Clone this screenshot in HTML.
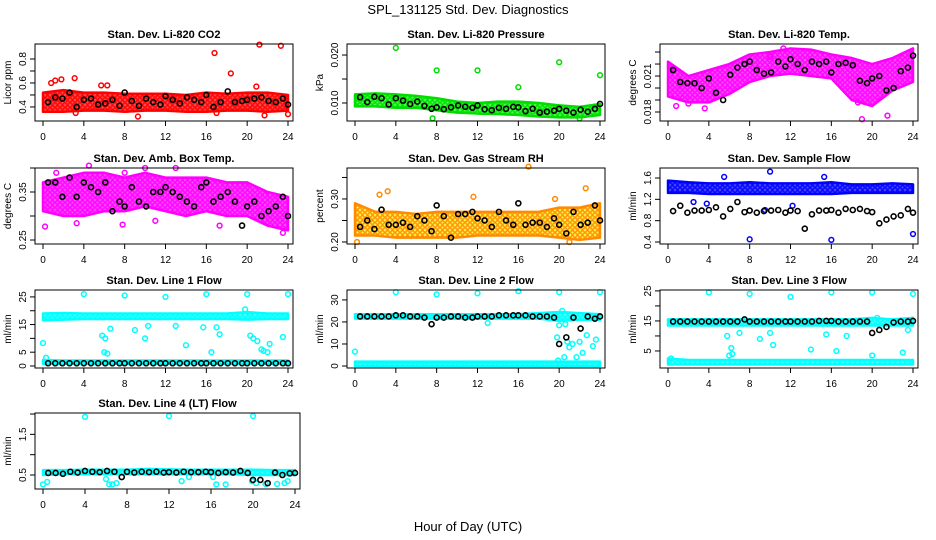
<!DOCTYPE html>
<html><head><meta charset="utf-8">
<style>
html,body{margin:0;padding:0;background:#fff;}
svg{display:block;font-family:"Liberation Sans",sans-serif;}
.title{font-size:11px;font-weight:bold;}
.tick{font-size:10px;}
</style></head>
<body>
<svg id="chart" width="936" height="540" viewBox="0 0 936 540" xmlns="http://www.w3.org/2000/svg">
<defs id="defs"></defs>
<text x="468" y="14" text-anchor="middle" font-size="13">SPL_131125  Std. Dev. Diagnostics</text>
<text x="468" y="531" text-anchor="middle" font-size="13">Hour of Day (UTC)</text>
</svg>
<script>
// shared hours
const bandHours = [0,2,4,6,8,10,12,14,16,18,20,22,24];
const blackHours = [0.5,1.2,1.9,2.6,3.3,4.0,4.7,5.4,6.1,6.8,7.5,8.0,8.7,9.4,10.1,10.8,11.5,12.0,12.7,13.4,14.1,14.8,15.5,16.0,16.7,17.4,18.1,18.8,19.5,20.0,20.7,21.4,22.1,22.8,23.5,24.0];
const xTicks = [0,4,8,12,16,20,24];

// CO2
const co2Lo = [0.36,0.36,0.37,0.37,0.36,0.37,0.37,0.36,0.36,0.37,0.37,0.36,0.37];
const co2Hi = [0.52,0.54,0.52,0.52,0.51,0.51,0.51,0.50,0.52,0.51,0.52,0.52,0.50];
const co2OutX = [0.8,1.2,1.8,3.1,5.7,6.3,16.8,18.4,21.2,23.3,20.9,9.3,21.7,24,3.2,17];
const co2OutY = [0.60,0.62,0.63,0.64,0.58,0.58,0.85,0.68,0.92,0.91,0.57,0.32,0.33,0.34,0.35,0.35];
const co2Black = [0.44,0.48,0.47,0.52,0.40,0.46,0.47,0.42,0.43,0.46,0.41,0.52,0.45,0.41,0.47,0.44,0.42,0.49,0.46,0.43,0.48,0.46,0.44,0.50,0.40,0.44,0.53,0.44,0.45,0.46,0.47,0.48,0.45,0.44,0.47,0.42];
// Pressure
const presLo = [0.0093,0.0093,0.0090,0.0090,0.0085,0.0080,0.0078,0.0077,0.0075,0.0072,0.0070,0.0070,0.0075];
const presHi = [0.0118,0.0120,0.0118,0.0115,0.0110,0.0103,0.0100,0.0103,0.0103,0.0100,0.0095,0.0092,0.0098];
const presOutX = [4,8,12,16,20,24,7.6,22];
const presOutY = [0.0215,0.0168,0.0168,0.0133,0.0185,0.0158,0.0068,0.0068];
const presBlack = [0.0112,0.0102,0.0113,0.0110,0.0097,0.0110,0.0105,0.0098,0.0103,0.0094,0.0088,0.0091,0.0087,0.0091,0.0095,0.0092,0.0090,0.0095,0.0087,0.0085,0.0090,0.0088,0.0092,0.0091,0.0083,0.0088,0.0080,0.0082,0.0084,0.0088,0.0084,0.0080,0.0086,0.0082,0.0088,0.0098];
// Li-820 Temp
const tempLo = [0.0193,0.0188,0.0188,0.0195,0.0205,0.0210,0.0212,0.0210,0.0208,0.0190,0.0185,0.0198,0.0205];
const tempHi = [0.0222,0.0210,0.0215,0.0220,0.0228,0.0230,0.0233,0.0232,0.0228,0.0225,0.0220,0.0225,0.0233];
const tempOutX = [0.8,2,3.6,19,21.5,10,11.3,0.2,18.6];
const tempOutY = [0.0185,0.0187,0.0183,0.0174,0.0177,0.0226,0.0233,0.0218,0.0188];
const tempBlack = [0.0215,0.0205,0.0204,0.0204,0.0200,0.0208,0.0196,0.0190,0.0211,0.0217,0.0220,0.0222,0.0215,0.0212,0.0213,0.0222,0.0218,0.0224,0.0220,0.0215,0.0222,0.0220,0.0222,0.0213,0.0220,0.0221,0.0219,0.0206,0.0204,0.0208,0.0210,0.0198,0.0200,0.0214,0.0217,0.0227];
// Amb box temp
const ambLo = [0.31,0.30,0.30,0.31,0.31,0.32,0.31,0.30,0.31,0.30,0.30,0.28,0.27];
const ambHi = [0.37,0.38,0.39,0.39,0.38,0.39,0.38,0.38,0.38,0.37,0.37,0.35,0.34];
const ambOutX = [0.2,3.3,7.8,11,17.3,23.5,4.5,10,13,1.3,8];
const ambOutY = [0.278,0.285,0.282,0.29,0.28,0.265,0.405,0.40,0.40,0.39,0.39];
const ambBlack = [0.37,0.37,0.34,0.38,0.34,0.37,0.36,0.35,0.37,0.31,0.33,0.32,0.36,0.33,0.32,0.35,0.35,0.36,0.35,0.34,0.33,0.32,0.36,0.37,0.33,0.34,0.35,0.33,0.28,0.32,0.33,0.30,0.31,0.32,0.34,0.30];
// Gas stream RH
const rhLo = [0.215,0.215,0.21,0.21,0.21,0.21,0.215,0.215,0.215,0.215,0.21,0.205,0.21];
const rhHi = [0.29,0.27,0.27,0.265,0.27,0.27,0.27,0.27,0.27,0.27,0.28,0.28,0.29];
const rhOutX = [0.2,3.2,2.4,17,22.6,11.6,21,19.6];
const rhOutY = [0.20,0.318,0.31,0.375,0.325,0.305,0.20,0.30];
const rhBlack = [0.235,0.25,0.23,0.275,0.24,0.24,0.245,0.235,0.26,0.25,0.225,0.285,0.26,0.21,0.265,0.265,0.27,0.255,0.25,0.235,0.27,0.25,0.24,0.29,0.24,0.245,0.245,0.235,0.255,0.24,0.22,0.27,0.24,0.245,0.285,0.25];
// Sample flow
const sfLo = [1.32,1.32,1.30,1.30,1.30,1.30,1.30,1.30,1.30,1.32,1.32,1.32,1.32];
const sfHi = [1.55,1.52,1.50,1.50,1.52,1.50,1.50,1.50,1.52,1.48,1.48,1.50,1.48];
const sfOutX = [8,16,24,10,15.3,2.5,9.5,5.5,3.8,12.2];
const sfOutY = [0.45,0.44,0.55,1.72,1.62,1.15,1.0,1.62,1.12,1.08];
const sfBlack = [0.98,1.08,0.95,0.99,0.99,1.0,1.05,0.88,1.02,1.15,0.96,0.99,0.95,0.98,0.99,1.0,0.95,0.99,0.98,0.65,0.92,0.99,0.99,1.0,0.95,1.02,1.0,1.02,0.98,0.96,0.75,0.82,0.88,0.9,1.02,0.95];
// Line 1 flow
const l1HiLo = [16.5,16.8,17,17,17,17,17,17,17,17,16.8,17,17];
const l1HiHi = [19,19.2,19,19,19,19,19,19,19,19,19.5,19,19];
const l1LoLo = [0.8,0.8,0.8,0.8,0.8,0.8,0.8,0.8,0.8,0.8,0.8,0.8,0.8];
const l1LoHi = [2.2,2,2,2,2,2,2,2,2,2,2,2,2];
const l1OutX = [0,4,8,12,16,20,24,6,6.3,5.8,6.1,6.6,9,10,10.3,13,14,15.7,16.5,17.3,17,20.3,20.6,21,21.4,21.6,22,22.2,23.5,19.8,0.3];
const l1OutY = [8.3,26,25.5,25,26,26,26,5,4.5,11,10,13.5,13,10,14.5,14.5,7.5,14,5,11.5,14,11,10,9,6,5.5,5,8,10.5,20.5,3];
const l1Black = [1,1,1,1,1,1,1,1,1,1,1,1,1,1,1,1,1,1,1,1,1,1,1,1,1,1,1,1,1,1,1,1,1,1,1,1];
// Line 2 flow
const l2HiLo = [21.5,21.5,21.5,21.5,21.5,21.5,21.5,21.5,21.5,21.5,20.5,21,21];
const l2HiHi = [23.5,23.5,23.5,23.5,23.5,23.5,23.5,23.5,23.5,24,24.5,24,23.5];
const l2LoLo = [0,0,0,0,0,0,0,0,0,0,0,0,0];
const l2LoHi = [2,2,2,2,2,2,2,2,2,2,2,2,2];
const l2OutX = [0,4,8,12,16,20,24,19.8,20,20.3,20.6,20.5,20.8,21,21.3,21.7,22,22.3,22.7,23.3,23.6,19.9,13];
const l2OutY = [6.5,33.5,32.5,33,34,33.5,33.5,13,18.5,25,19,4,11,8.5,10,4,11,6,14,9,12,2.5,19.5];
const l2Black = [22.5,22.5,22.5,22.5,22.5,23,23,22.5,22.5,22,19,22,22,22.5,22.5,22,22,22.5,22.5,22.5,23,23,23,23,23,22.5,22.5,22.5,22,10,13,22,17,22.5,21.5,22.5];
// Line 3 flow
const l3HiLo = [13.5,13.5,13.5,13.5,13.5,13.5,13.5,13.5,13.5,13.5,13.5,13.5,13.5];
const l3HiHi = [15.5,15.5,15.5,15.5,15.5,15.5,15.5,15.5,15.5,15.5,16,15.5,16];
const l3LoLo = [0.5,0.5,0.5,0.5,0.5,0.5,0.5,0.5,0.5,0.5,0.5,0.5,0.5];
const l3LoHi = [2.5,2,2,2,2,2,2,2,2,2,2,2,2];
const l3OutX = [4,8,12,16,20,24,0.3,5.8,6.2,6.3,6,7,9,10,10.3,14,15.5,16.5,17.5,20,23,23.5,20.5];
const l3OutY = [24.5,24,23,24.5,24.5,24,2.5,10,6,4,3.5,11,9,11,7,5.5,10.5,5,10,3.5,4.5,12,16];
const l3Black = [14.8,14.8,14.8,14.8,14.8,14.8,14.8,14.8,14.8,14.8,15.5,14.8,14.8,14.8,14.8,14.8,14.8,14.8,14.8,14.8,14.8,15,15,15,14.8,14.8,14.8,14.8,14.8,11,12,13,14.5,14.8,14.8,15];
// Line 4 flow
const l4Lo = [0.50,0.52,0.52,0.52,0.52,0.52,0.52,0.52,0.52,0.52,0.50,0.50,0.50];
const l4Hi = [0.62,0.62,0.63,0.63,0.63,0.65,0.64,0.63,0.63,0.63,0.63,0.62,0.62];
const l4OutX = [4,12,20,0,0.4,6,6.3,6.6,7,13.2,13.9,16.5,17.4,19.9,20.3,21.2,22.3,23,23.3,16.2];
const l4OutY = [1.93,1.95,1.95,0.27,0.33,0.4,0.27,0.27,0.3,0.35,0.45,0.27,0.27,0.35,0.3,0.28,0.28,0.3,0.35,0.45];
const l4Black = [0.55,0.55,0.53,0.58,0.56,0.6,0.58,0.57,0.6,0.58,0.45,0.58,0.56,0.58,0.57,0.58,0.56,0.57,0.56,0.58,0.57,0.57,0.58,0.57,0.55,0.57,0.56,0.6,0.55,0.38,0.38,0.3,0.56,0.5,0.54,0.55];

const panels = [
 {name:'co2',title:'Stan. Dev. Li-820 CO2',ylab:'Licor ppm',left:35,top:44,w:258,h:77,y0:0.283,y1:0.925,ticks:[0.4,0.5,0.6,0.7,0.8],labels:['0.4','','0.6','','0.8'],color:'#ff0000',bg:'#ff0000',bands:[[co2Lo,co2Hi]],ox:co2OutX,oy:co2OutY,black:co2Black},
 {name:'pressure',title:'Stan. Dev. Li-820 Pressure',ylab:'kPa',left:347,top:44,w:258,h:77,y0:0.00625,y1:0.0223,ticks:[0.010,0.015,0.020],labels:['0.010','','0.020'],color:'#00dd00',bg:'#00ff00',bands:[[presLo,presHi]],ox:presOutX,oy:presOutY,black:presBlack},
 {name:'li820-temp',title:'Stan. Dev. Li-820 Temp.',ylab:'degrees C',left:660,top:44,w:258,h:77,y0:0.01725,y1:0.02367,ticks:[0.018,0.019,0.020,0.021,0.022,0.023],labels:['0.018','','','0.021','',''],color:'#ff00ff',bg:'#ff00ff',bands:[[tempLo,tempHi]],ox:tempOutX,oy:tempOutY,black:tempBlack},
 {name:'amb-box-temp',title:'Stan. Dev. Amb. Box Temp.',ylab:'degrees C',left:35,top:168,w:258,h:76,y0:0.2417,y1:0.40,ticks:[0.25,0.30,0.35,0.40],labels:['0.25','','0.35',''],color:'#ff00ff',bg:'#ff00ff',bands:[[ambLo,ambHi]],ox:ambOutX,oy:ambOutY,black:ambBlack},
 {name:'gas-stream-rh',title:'Stan. Dev. Gas Stream RH',ylab:'percent',left:347,top:168,w:258,h:76,y0:0.1953,y1:0.372,ticks:[0.20,0.25,0.30,0.35],labels:['0.20','','0.30',''],color:'#ff8c00',bg:'#ffee00',bands:[[rhLo,rhHi]],ox:rhOutX,oy:rhOutY,black:rhBlack},
 {name:'sample-flow',title:'Stan. Dev. Sample Flow',ylab:'ml/min',left:660,top:168,w:258,h:76,y0:0.3625,y1:1.7875,ticks:[0.4,0.8,1.2,1.6],labels:['0.4','0.8','1.2','1.6'],color:'#0000ff',bg:'#0000ff',bands:[[sfLo,sfHi]],ox:sfOutX,oy:sfOutY,black:sfBlack},
 {name:'line1-flow',title:'Stan. Dev. Line 1 Flow',ylab:'ml/min',left:35,top:290,w:258,h:78,y0:-0.72,y1:27.5,ticks:[0,5,10,15,20,25],labels:['0','5','','15','','25'],color:'#00ffff',bg:'#00ffff',bands:[[l1HiLo,l1HiHi],[l1LoLo,l1LoHi]],ox:l1OutX,oy:l1OutY,black:l1Black},
 {name:'line2-flow',title:'Stan. Dev. Line 2 Flow',ylab:'ml/min',left:347,top:290,w:258,h:78,y0:-0.9,y1:34.5,ticks:[0,10,20,30],labels:['0','10','20','30'],color:'#00ffff',bg:'#00ffff',bands:[[l2HiLo,l2HiHi],[l2LoLo,l2LoHi]],ox:l2OutX,oy:l2OutY,black:l2Black},
 {name:'line3-flow',title:'Stan. Dev. Line 3 Flow',ylab:'ml/min',left:660,top:290,w:258,h:78,y0:-0.67,y1:25.3,ticks:[5,10,15,20,25],labels:['5','','15','','25'],color:'#00ffff',bg:'#00ffff',bands:[[l3HiLo,l3HiHi],[l3LoLo,l3LoHi]],ox:l3OutX,oy:l3OutY,black:l3Black},
 {name:'line4-flow',title:'Stan. Dev. Line 4 (LT) Flow',ylab:'ml/min',left:35,top:413,w:265,h:76,y0:0.156,y1:2.025,ticks:[0.5,1.0,1.5,2.0],labels:['0.5','','1.5',''],color:'#00ffff',bg:'#00ffff',bands:[[l4Lo,l4Hi]],ox:l4OutX,oy:l4OutY,black:l4Black}
];

const NS='http://www.w3.org/2000/svg';
const svg=document.getElementById('chart');
const defs=document.getElementById('defs');
function mk(tag,attrs,parent){const e=document.createElementNS(NS,tag);for(const k in attrs)e.setAttribute(k,attrs[k]);(parent||svg).appendChild(e);return e;}

panels.forEach((p,i)=>{
  const g=mk('g',{});
  
  
  const xs=h=>p.left+8+h*(p.w-13)/24;
  const ys=v=>p.top+p.h-(v-p.y0)/(p.y1-p.y0)*p.h;
  const pat=mk('pattern',{id:'pat'+i,width:5,height:5,patternUnits:'userSpaceOnUse'},defs);
  mk('rect',{width:5,height:5,fill:p.bg,'fill-opacity':0.7},pat);
  mk('circle',{cx:2.5,cy:2.5,r:1.8,fill:'none',stroke:p.color,'stroke-width':1.3},pat);
  const t=mk('text',{x:p.left+p.w/2,y:p.top-6,'text-anchor':'middle',class:'title'},g);
  t.textContent=p.title;
  
  
  p.bands.forEach((b,bi)=>{
    let pts=bandHours.map((h,k)=>xs(h)+','+ys(b[1][k]));
    pts=pts.concat(bandHours.map((h,k)=>xs(h)+','+ys(b[0][k])).reverse());
    const poly=mk('polygon',{points:pts.join(' '),fill:'url(#pat'+i+')',stroke:p.color,'stroke-width':2.5,'stroke-linejoin':'round'},g);
    
    
  });
  p.ox.forEach((x,k)=>{
    const c=mk('circle',{cx:xs(x),cy:ys(p.oy[k]),r:2.4,fill:'none',stroke:p.color,'stroke-width':1.5},g);
    
    
  });
  blackHours.forEach((h,k)=>{
    const c=mk('circle',{cx:xs(h),cy:ys(p.black[k]),r:2.5,fill:'none',stroke:'#000','stroke-width':1.6},g);
    
    
  });
  const box=mk('rect',{x:p.left,y:p.top,width:p.w,height:p.h,fill:'none',stroke:'#000','stroke-width':1},g);
  
  
  xTicks.forEach(h=>{
    mk('line',{x1:xs(h),x2:xs(h),y1:p.top+p.h,y2:p.top+p.h+5,stroke:'#000'},g);
    const tl=mk('text',{x:xs(h),y:p.top+p.h+19,'text-anchor':'middle',class:'tick'},g);
    tl.textContent=h;
    
    
  });
  p.ticks.forEach((v,k)=>{
    mk('line',{x1:p.left,x2:p.left-5,y1:ys(v),y2:ys(v),stroke:'#000'},g);
    if(p.labels[k]){
      const tx=p.left-9, ty=ys(v);
      const tl=mk('text',{x:tx,y:ty,'text-anchor':'middle',class:'tick',transform:'rotate(-90 '+tx+' '+ty+')'},g);
      tl.textContent=p.labels[k];
      
      
    }
  });
  const yx=p.left-24, yy=p.top+p.h/2;
  const yl=mk('text',{x:yx,y:yy,'text-anchor':'middle',class:'tick',transform:'rotate(-90 '+yx+' '+yy+')'},g);
  yl.textContent=p.ylab;
  
  
});
</script>
</body></html>
